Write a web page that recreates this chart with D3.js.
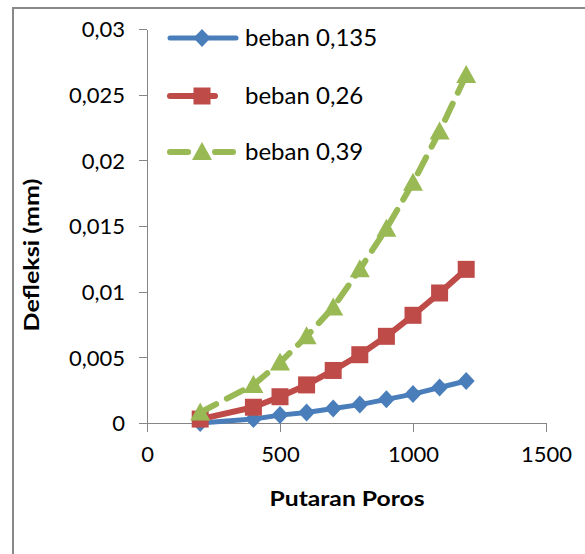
<!DOCTYPE html>
<html><head><meta charset="utf-8">
<script src="https://cdn.jsdelivr.net/npm/d3@7"></script>
<style>body{margin:0;background:#fff}svg{display:block}text{font-family:Lato,"Open Sans",sans-serif;fill:#000}</style>
</head><body>
<script>
const putaran = [200,400,500,600,700,800,900,1000,1100,1200];
const beban0135 = [0,0.0003,0.0006,0.0008,0.0011,0.0014,0.0018,0.0022,0.0027,0.0032];
const beban026 = [0.0003,0.0012,0.002,0.0029,0.004,0.0052,0.0066,0.0082,0.0099,0.0117];
const beban039 = [0.0008,0.0029,0.0046,0.0066,0.0088,0.0117,0.0148,0.0183,0.0222,0.0265];
const seriesNames = ["beban 0,135","beban 0,26","beban 0,39"];
const xTicks = [0,500,1000,1500];
const yTicks = [0,0.005,0.01,0.015,0.02,0.025,0.03];

const W=585,H=554;
const svg=d3.select("body").append("svg").attr("width",W).attr("height",H);
svg.append("rect").attr("x",13).attr("y",8).attr("width",W).attr("height",H).attr("fill","#fff").attr("stroke","#898989").attr("stroke-width",2);

const x=d3.scaleLinear().domain([0,1500]).range([147,546]);
const y=d3.scaleLinear().domain([0,0.03]).range([423,29]);
const axisColor="#868686";

const fmt=d=>d3.format(".3~f")(d).replace(".",",");
const yAxis=svg.append("g").attr("transform","translate(147,0)").call(d3.axisLeft(y).tickValues(yTicks).tickSize(8).tickSizeOuter(0).tickPadding(14).tickFormat(fmt));
const xAxis=svg.append("g").attr("transform","translate(0,423)").call(d3.axisBottom(x).tickValues(xTicks).tickSize(9).tickSizeOuter(0).tickPadding(14).tickFormat(d3.format("d")));
[yAxis,xAxis].forEach(a=>{a.selectAll("path,line").attr("stroke",axisColor).attr("shape-rendering","crispEdges");a.selectAll("text").attr("font-size",22).attr("font-family","Lato").attr("fill","#222");});
yAxis.selectAll("text").attr("dy","0.35em");
xAxis.selectAll("text").attr("dy","0.71em");
svg.append("line").attr("x1",139).attr("x2",147).attr("y1",423.5).attr("y2",423.5).attr("stroke",axisColor);

const series=[
 {name:seriesNames[0],vals:beban0135,color:"#4A7EBB",width:5,dash:null,marker:"diamond"},
 {name:seriesNames[1],vals:beban026,color:"#BE4B48",width:6,dash:null,marker:"square"},
 {name:seriesNames[2],vals:beban039,color:"#98B954",width:6,dash:"18,12",marker:"triangle"}
];
function markerPath(type){
 if(type==="diamond") return "M0,-9L8.5,0L0,9L-8.5,0Z";
 if(type==="square") return "M-8.5,-8.5H8.5V8.5H-8.5Z";
 return "M0,-10L10,8L-10,8Z";
}
const line=d3.line().x(d=>x(d[0])).y(d=>y(d[1]));
series.forEach(s=>{
 const pts=putaran.map((p,i)=>[p,s.vals[i]]);
 const g=svg.append("g");
 g.append("path").attr("d",line(pts)).attr("fill","none").attr("stroke",s.color).attr("stroke-width",s.width)
  .attr("stroke-linecap","round").attr("stroke-linejoin","round").attr("stroke-dasharray",s.dash);
 g.selectAll("path.m").data(pts).join("path").attr("class","m").attr("d",markerPath(s.marker))
  .attr("transform",d=>`translate(${x(d[0])},${y(d[1])})`).attr("fill",s.color);
});

const legY=[38,96,152];
series.forEach((s,i)=>{
 const g=svg.append("g").attr("transform",`translate(0,${legY[i]})`);
 if(i===0){
  g.append("line").attr("x1",170).attr("x2",236).attr("stroke",s.color).attr("stroke-width",s.width).attr("stroke-linecap","round");
 } else if(i===1){
  g.append("line").attr("x1",170).attr("x2",215).attr("stroke",s.color).attr("stroke-width",s.width).attr("stroke-linecap","round");
 } else {
  g.append("line").attr("x1",170).attr("x2",188).attr("stroke",s.color).attr("stroke-width",s.width).attr("stroke-linecap","round");
  g.append("line").attr("x1",215).attr("x2",233).attr("stroke",s.color).attr("stroke-width",s.width).attr("stroke-linecap","round");
 }
 g.append("path").attr("d",markerPath(s.marker)).attr("transform","translate(202,0)").attr("fill",s.color);
 g.append("text").attr("x",245).attr("dy","0.35em").attr("font-size",24).attr("fill","#222").text(s.name);
});

svg.append("text").attr("x",347).attr("y",506).attr("text-anchor","middle").attr("font-weight","bold").attr("font-size",21).attr("textLength",155).attr("lengthAdjust","spacingAndGlyphs").text("Putaran Poros");
svg.append("text").attr("transform","translate(39,255) rotate(-90)").attr("text-anchor","middle").attr("font-weight","bold").attr("font-size",21).attr("textLength",153).attr("lengthAdjust","spacingAndGlyphs").text("Defleksi (mm)");
</script>
</body></html>
